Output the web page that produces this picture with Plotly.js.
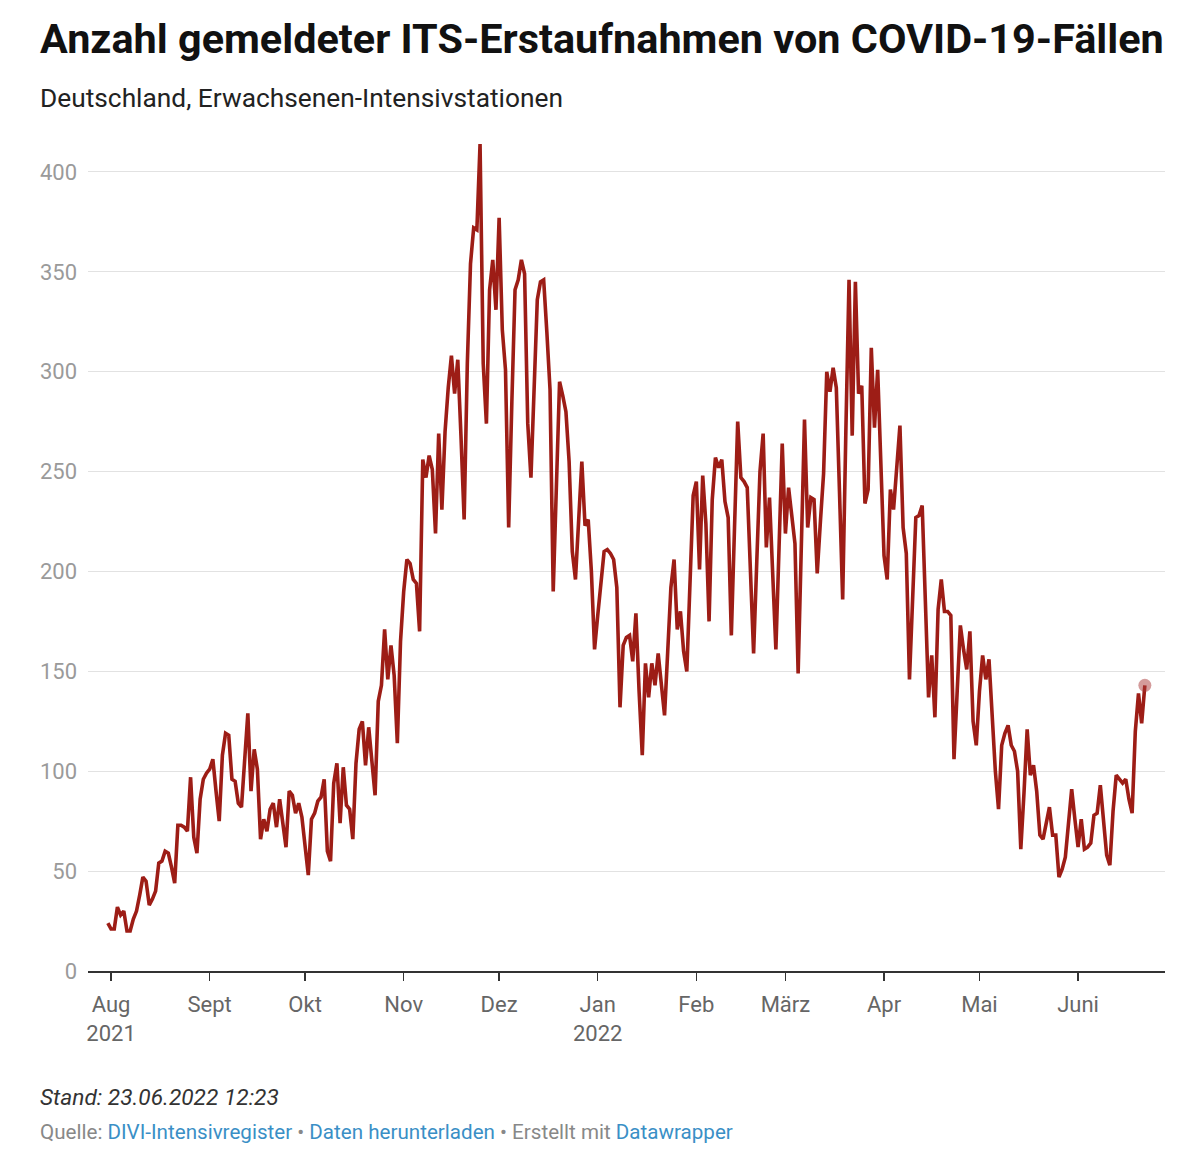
<!DOCTYPE html>
<html>
<head>
<meta charset="utf-8">
<script src="https://cdn.plot.ly/plotly-3.0.1.min.js"></script>
<style>
  html, body { margin: 0; padding: 0; background: #fff; }
  #chart { width: 1200px; height: 1157px; }
</style>
</head>
<body>
<div id="chart"></div>
<script>
// Daily ITS first admissions of COVID-19 cases, starting 2021-07-31
const startDate = '2021-07-31';
const jul2021 = [24];
const aug2021 = [21,21,32,28,30,20,20,26,30,38,47,45,33,36,40,54,55,60,59,52,44,73,73,72,70,97,67,59,86,96,99];
const sep2021 = [101,106,90,75,108,119,118,96,95,84,82,105,129,90,111,101,66,76,70,81,84,72,86,74,62,90,88,79,84,77];
const oct2021 = [62,48,76,79,85,87,96,60,55,94,104,74,102,83,81,66,104,121,125,103,122,107,88,135,143,171,146,163,148,114,165];
const nov2021 = [190,206,204,196,194,170,256,247,258,251,219,269,231,270,292,308,289,306,268,226,304,354,372,371,414,304,274,341,356,331];
const dec2021 = [377,321,301,222,285,341,346,356,349,274,247,290,336,345,346,320,291,190,240,295,288,280,255,210,196,225,255,223,226,200,161];
const jan2022 = [178,195,210,211,209,206,192,132,163,167,168,155,179,140,108,154,137,154,143,159,145,128,160,192,206,171,180,160,150,195,238];
const feb2022 = [245,201,248,224,175,236,257,252,256,235,227,168,222,275,247,245,242,200,159,205,250,269,212,237,200,161,212,264];
const mar2022 = [219,242,228,214,149,215,276,222,237,236,199,225,249,300,290,302,292,240,186,270,346,268,345,289,293,234,241,312,272,301,255];
const apr2022 = [208,196,241,231,252,273,222,209,146,190,227,228,233,185,137,158,127,181,196,180,180,178,106,140,173,161,151,170,125,113];
const may2022 = [140,158,146,156,129,100,81,113,119,123,113,110,100,61,89,121,98,103,90,68,66,74,82,68,68,47,51,57,72,91,76];
const jun2022 = [62,76,61,62,64,78,79,93,75,58,53,80,98,96,94,96,86,79,120,139,124,143];

const tickDates = ['2021-08-01','2021-09-01','2021-10-01','2021-11-01','2021-12-01','2022-01-01','2022-02-01','2022-03-01','2022-04-01','2022-05-01','2022-06-01'];
const tickLabels = ['Aug<br>2021','Sept','Okt','Nov','Dez','Jan<br>2022','Feb','März','Apr','Mai','Juni'];
const yTicks = [0,50,100,150,200,250,300,350,400];

const values = [].concat(jul2021, aug2021, sep2021, oct2021, nov2021, dec2021, jan2022, feb2022, mar2022, apr2022, may2022, jun2022);
const dates = values.map((v, i) => {
  const d = new Date(startDate + 'T00:00:00Z');
  d.setUTCDate(d.getUTCDate() + i);
  return d.toISOString().slice(0, 10);
});

const lineColor = '#9d1d16';

const traces = [
  {
    x: dates, y: values, type: 'scatter', mode: 'lines',
    line: { color: lineColor, width: 3.6, shape: 'linear' },
    hoverinfo: 'skip'
  },
  {
    x: [dates[dates.length - 1]], y: [values[values.length - 1]],
    type: 'scatter', mode: 'markers',
    marker: { size: 13, color: 'rgba(170,55,55,0.5)', line: { width: 0 } },
    hoverinfo: 'skip'
  }
];

// pixel helpers for paper coordinates (plot area: x 88..1165, y 142..971)
const L = 88, R = 1165, T = 142, B = 971;
const px = x => (x - L) / (R - L);
const py = y => (B - y) / (B - T);

const layout = {
  width: 1200, height: 1157,
  margin: { l: L, r: 1200 - R, t: T, b: 1157 - B, pad: 0 },
  paper_bgcolor: '#ffffff', plot_bgcolor: '#ffffff',
  showlegend: false,
  hovermode: false,
  font: { family: 'Roboto, "Noto Sans", sans-serif', color: '#333' },
  xaxis: {
    type: 'date',
    range: ['2021-07-24 18:00', '2022-06-28 08:00'],
    tickvals: tickDates, ticktext: tickLabels,
    tickmode: 'array',
    ticks: 'outside', ticklen: 8, tickwidth: 1.5, tickcolor: '#333',
    ticklabelstandoff: 5,
    showgrid: false, zeroline: false,
    showline: true, linecolor: '#333', linewidth: 1.5,
    tickfont: { family: 'Roboto, sans-serif', size: 22, color: '#666' },
    fixedrange: true
  },
  yaxis: {
    range: [0, 415],
    tickvals: yTicks, tickmode: 'array',
    showgrid: true, gridcolor: '#e2e2e2', gridwidth: 1,
    zeroline: false, showline: false, ticks: '',
    ticklabelstandoff: 10,
    tickfont: { family: 'Roboto, sans-serif', size: 22, color: '#9a9a9a' },
    fixedrange: true
  },
  annotations: [
    {
      xref: 'paper', yref: 'paper', x: px(38), y: py(39), xanchor: 'left', yanchor: 'middle',
      text: '<b>Anzahl gemeldeter ITS-Erstaufnahmen von COVID-19-Fällen</b>',
      showarrow: false, font: { family: 'Roboto, sans-serif', size: 41.4, color: '#111' }
    },
    {
      xref: 'paper', yref: 'paper', x: px(38), y: py(98), xanchor: 'left', yanchor: 'middle',
      text: 'Deutschland, Erwachsenen-Intensivstationen',
      showarrow: false, font: { family: 'Roboto, sans-serif', size: 26.3, color: '#222' }
    },
    {
      xref: 'paper', yref: 'paper', x: px(38), y: py(1097), xanchor: 'left', yanchor: 'middle',
      text: '<i>Stand: 23.06.2022 12:23</i>',
      showarrow: false, font: { family: 'Roboto, sans-serif', size: 22.7, color: '#333' }
    },
    {
      xref: 'paper', yref: 'paper', x: px(38), y: py(1132), xanchor: 'left', yanchor: 'middle',
      text: 'Quelle: <span style="color:#3a8fc6">DIVI-Intensivregister</span> • <span style="color:#3a8fc6">Daten herunterladen</span> • Erstellt mit <span style="color:#3a8fc6">Datawrapper</span>',
      showarrow: false, font: { family: 'Roboto, sans-serif', size: 20.6, color: '#888' }
    }
  ]
};

Plotly.newPlot('chart', traces, layout, { staticPlot: true, displayModeBar: false });
</script>
</body>
</html>
